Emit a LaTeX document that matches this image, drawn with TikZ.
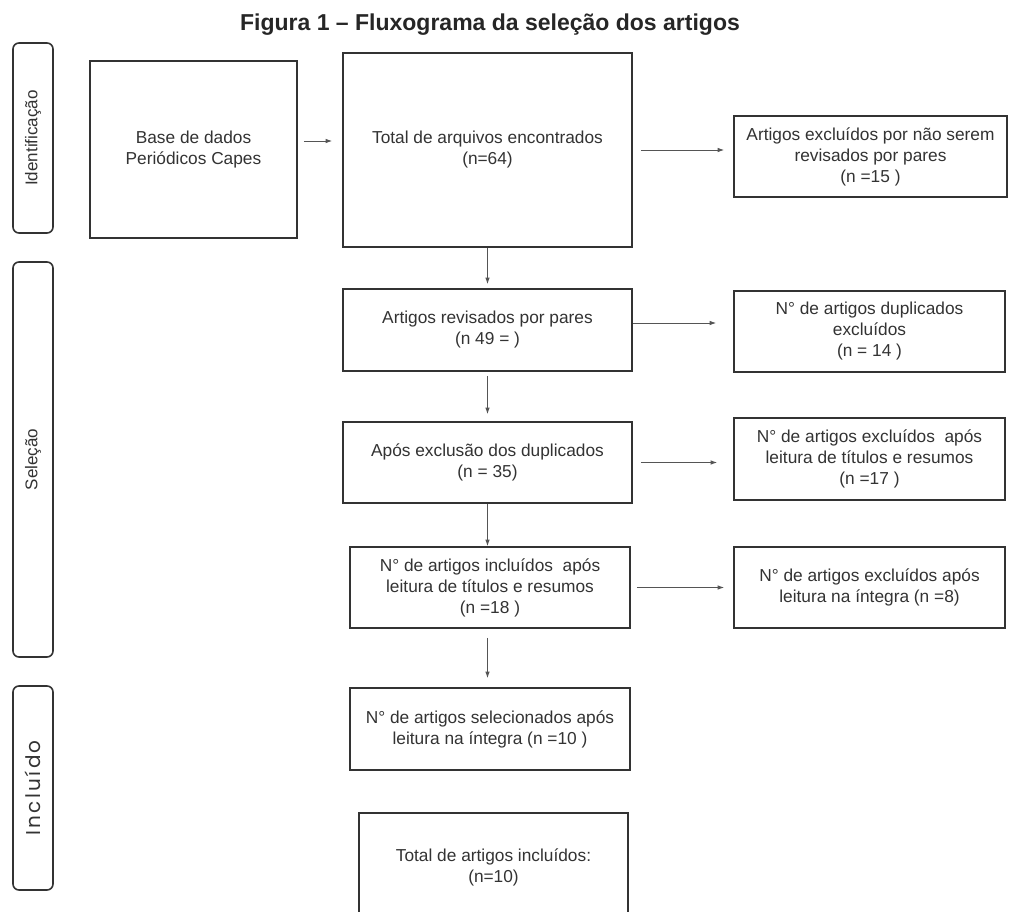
\documentclass[tikz,border=0pt]{standalone}
\usepackage{fontspec}
\setmainfont{Liberation Sans}
\newfontfamily\inclfont[LetterSpace=12]{Poppins}
\usetikzlibrary{arrows.meta,positioning,calc}
\definecolor{linegray}{HTML}{333333}
\definecolor{textgray}{HTML}{333333}
\definecolor{arrowgray}{HTML}{555555}

\begin{document}
\begin{tikzpicture}[x=1pt, y=-1pt,
    box/.style={draw=linegray, line width=1.6pt, align=center, text=textgray,
        font=\fontsize{17.3}{21}\selectfont, inner sep=0pt},
    side/.style={draw=linegray, line width=1.6pt, rounded corners=6pt, rotate=90,
        minimum height=40pt, inner sep=0pt, text=textgray,
        font=\fontsize{17}{20}\selectfont},
    arr/.style={draw=arrowgray, line width=0.9pt, -{Latex[length=6.5pt,width=4.5pt]}}]
    \fill[white] (0,0) rectangle (1010,911);
    \useasboundingbox (0,0) rectangle (1010,911);

    % Title
    \node[font=\fontsize{23}{27}\selectfont\bfseries, text=black!85] (title) at (490,25)
        {Figura 1 – Fluxograma da seleção dos artigos};

    % Stages
    \node[side, minimum width=190pt] (ident) at (33,138) {Identificação};
    \node[side, minimum width=395pt] (selec) at (33,459.5) {Seleção};
    \node[side, minimum width=204pt, font=\inclfont\fontsize{20}{24}\selectfont] (inclu) at (33,788) {Incluído};

    % Identificacao
    \node[box, minimum width=207pt, minimum height=177pt] (base) at (193.5,149.5)
        {Base de dados\\Periódicos Capes};
    \node[box, minimum width=289pt, minimum height=194pt] (total) at (487.5,150)
        {Total de arquivos encontrados\\(n=64)};
    \node[box, minimum width=273pt, minimum height=81pt] (ex1) at (870.5,156.5)
        {Artigos excluídos por não serem\\revisados por pares\\(n =15 )};

    % Selecao
    \node[box, minimum width=289pt, minimum height=82pt] (rev) at (487.5,330)
        {Artigos revisados por pares\\(n 49 = )};
    \node[box, minimum width=271pt, minimum height=81pt] (dup) at (869.5,331.5)
        {N° de artigos duplicados\\excluídos\\(n = 14 )};

    \node[box, minimum width=289pt, minimum height=81pt] (apos) at (487.5,462.5)
        {Após exclusão dos duplicados\\(n = 35)};
    \node[box, minimum width=271pt, minimum height=82pt] (ex2) at (869.5,459)
        {N° de artigos excluídos\ \ após\\leitura de títulos e resumos\\(n =17 )};

    \node[box, minimum width=280pt, minimum height=81pt] (incl) at (490,587.5)
        {N° de artigos incluídos\ \ após\\leitura de títulos e resumos\\(n =18 )};
    \node[box, minimum width=271pt, minimum height=81pt] (ex3) at (869.5,587.5)
        {N° de artigos excluídos após\\leitura na íntegra (n =8)};

    % Incluido
    \node[box, minimum width=280pt, minimum height=82pt] (sel) at (490,729)
        {N° de artigos selecionados após\\leitura na íntegra (n =10 )};
    \node[box, minimum width=269pt, minimum height=108pt] (tot) at (493.5,867)
        {Total de artigos incluídos:\\(n=10)};

    % Arrows
    \draw[arr, shorten <=6pt, shorten >=10pt] ([yshift=8.5pt]base.east) -- ([yshift=8.5pt]base.east -| total.west);
    \draw[arr, shorten <=8pt, shorten >=9pt] (total.east) -- (total.east -| ex1.west);
    \draw[arr, shorten >=4pt] (total.south) -- (rev.north);
    \draw[arr, shorten >=17pt] ([yshift=7pt]rev.east) -- ([yshift=7pt]rev.east -| dup.west);
    \draw[arr, shorten <=4pt, shorten >=7pt] (rev.south) -- (apos.north);
    \draw[arr, shorten <=8pt, shorten >=16pt] (apos.east) -- (apos.east -| ex2.west);
    \draw[arr] (apos.south) -- (apos.south |- incl.north);
    \draw[arr, shorten <=6pt, shorten >=9pt] (incl.east) -- (incl.east -| ex3.west);
    \draw[arr, shorten <=9pt, shorten >=9pt] (incl.south -| total.south) -- (sel.north -| total.south);
\end{tikzpicture}
\end{document}
